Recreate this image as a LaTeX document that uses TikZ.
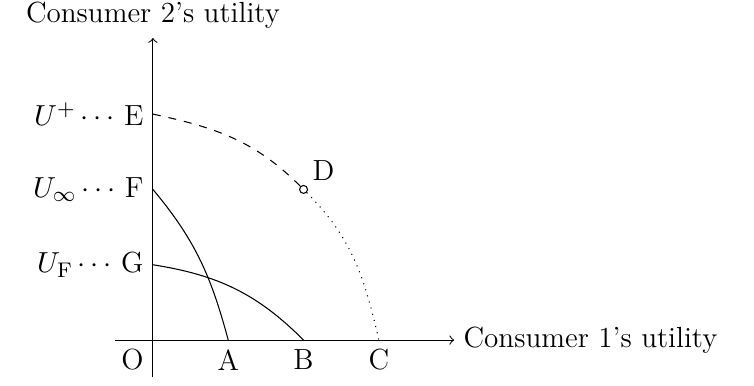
\documentclass[tikz,border=0pt]{standalone}

\tikzset{
  curvept/.style={circle, draw, fill=white, inner sep=0pt, minimum size=3pt},
}

\begin{document}
\begin{tikzpicture}[x=1cm,y=1cm, font=\fontsize{11}{13}\selectfont]
    \useasboundingbox (-2.03,-0.60) rectangle (7.98,4.515);
    % axes
    \coordinate (O) at (0,0);
    \coordinate (xs) at (-0.5,0);
    \coordinate (xe) at (4.0,0);
    \coordinate (ys) at (0,-0.49);
    \coordinate (ye) at (0,4.01);
    \draw[->] (xs) -- (xe) node[right] (xlab) {Consumer 1's utility};
    \draw[->] (ys) -- (ye) node[above] (ylab) {Consumer 2's utility};
    \node[below left] (Olab) at (O) {O};
    % points on the axes
    \coordinate (A) at (1,0);
    \coordinate (B) at (2,0);
    \coordinate (C) at (3,0);
    \coordinate (E) at (0,3);
    \coordinate (F) at (0,2);
    \coordinate (G) at (0,1);
    \node[below] (Alab) at (A) {A};
    \node[below] (Blab) at (B) {B};
    \node[below] (Clab) at (C) {C};
    \node[left] (Elab) at (E) {$U^{+}\cdots$ E};
    \node[left] (Flab) at (F) {$U_{\infty}\cdots$ F};
    \node[left] (Glab) at (G) {$U_{\mathrm{F}}\cdots$ G};
    % frontiers
    \draw (F) to[out=-50, in=105] (A);
    \draw (G) to[out=-9, in=135] (B);
    \node[curvept] (D) at (2,2) {};
    \node[above right, inner sep=2pt] (Dlab) at (D.north east) {D};
    \draw[dashed] (E) to[out=-12, in=135] (D);
    \draw[dotted] (D) to[out=-45, in=103] (C);
\end{tikzpicture}
\end{document}
